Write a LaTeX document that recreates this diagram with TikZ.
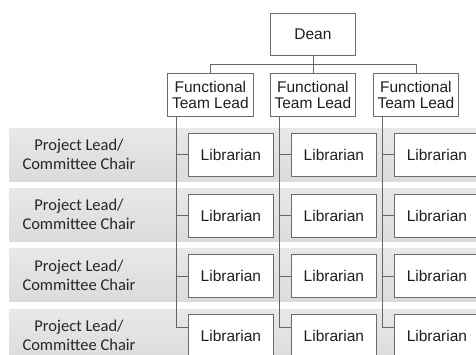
\documentclass[tikz,border=0pt]{standalone}
\usepackage{fontspec}
\setmainfont{Liberation Sans}
\newfontfamily\calib{Carlito}
\begin{document}
\begin{tikzpicture}[x=1pt,y=-1pt,
  box/.style={draw=gray!85!black, fill=white, line width=0.8pt, inner sep=0pt,
    anchor=north west, align=center, text=black!88,
    font=\fontsize{15.5}{16}\selectfont},
  libbox/.style={box, minimum width=85pt, minimum height=43pt},
  band/.style={anchor=north west, top color=gray!18, bottom color=gray!28,
    draw=none, minimum width=480pt, minimum height=53pt, inner sep=0pt},
  pltext/.style={align=center, text=black!85, font=\calib\fontsize{16.5}{19}\selectfont},
  conn/.style={draw=black!60, line width=0.8pt}]
\useasboundingbox (0,0) rectangle (476,355);
\clip (0,0) rectangle (476,355);

% bands
\foreach \i/\y in {1/128,2/188.3,3/248.6,4/309}{
  \node[band] (band\i) at (9,\y) {};
  \node[pltext] (pl\i) at (79,\y+26.5) {Project Lead/\\Committee Chair};
}

% top boxes
\node[box, minimum width=85pt, minimum height=42pt] (dean) at (270,13) {Dean};
\node[box, minimum width=86pt, minimum height=43pt] (ftl1) at (167,73) {Functional\\Team Lead};
\node[box, minimum width=85pt, minimum height=43pt] (ftl2) at (270,73) {Functional\\Team Lead};
\node[box, minimum width=85pt, minimum height=43pt] (ftl3) at (373,73) {Functional\\Team Lead};

\draw[conn] (dean.south) -- ++(0,9) coordinate (hub);
\draw[conn] (hub) -| (ftl1.north);
\draw[conn] (hub) -- (ftl2.north);
\draw[conn] (hub) -| (ftl3.north);

% librarians
\foreach \r/\y in {1/133,2/194,3/254,4/314}{
  \node[libbox] (lib\r1) at (188,\y) {Librarian};
  \node[libbox] (lib\r2) at (291,\y) {Librarian};
  \node[libbox] (lib\r3) at (394,\y) {Librarian};
}

% vertical connectors
\foreach \c in {1,2,3}{
  \path (ftl\c.south west) ++(9,0) coordinate (t\c);
  \draw[conn] (t\c) |- ([yshift=8.5pt]lib4\c.west);
  \foreach \r in {1,2,3}{
    \draw[conn] (t\c |- lib\r\c.west) -- (lib\r\c.west);
  }
}
\end{tikzpicture}
\end{document}
